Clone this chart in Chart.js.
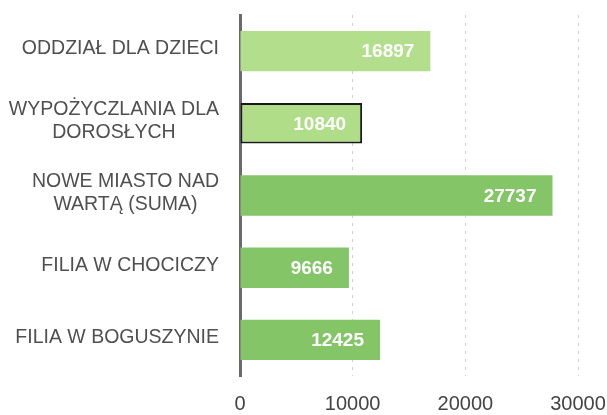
<!DOCTYPE html>
<html>
<head>
<meta charset="utf-8">
<script src="https://cdn.jsdelivr.net/npm/chart.js@4/dist/chart.umd.min.js"></script>
<style>
  html, body { margin: 0; padding: 0; background: #fff; }
  #wrap { width: 607px; height: 415px; }
</style>
</head>
<body>
<div id="wrap"><canvas id="chart" width="607" height="415"></canvas></div>
<script>
// data
const categories = [
    ["ODDZIAŁ DLA DZIECI"],
    ["WYPOŻYCZLANIA DLA", "DOROSŁYCH"],
    ["NOWE MIASTO NAD", "WARTĄ (SUMA)"],
    ["FILIA W CHOCICZY"],
    ["FILIA W BOGUSZYNIE"]
];
const values = [16897, 10840, 27737, 9666, 12425];
const xTicks = [0, 10000, 20000, 30000];

const barColors = ['#b3df8c', '#afdd88', '#84c568', '#84c568', '#84c568'];

// category labels: right aligned block, lines centered inside the block
const categoryLabels = {
    id: 'categoryLabels',
    afterDraw(chart) {
        const ctx = chart.ctx;
        const y = chart.scales.y;
        ctx.save();
        ctx.font = '19.5px "Liberation Sans", Arial, sans-serif';
        ctx.fillStyle = '#505050';
        ctx.textAlign = 'center';
        ctx.textBaseline = 'middle';
        const lineH = 23;
        const right = 219;
        categories.forEach((lines, i) => {
            const cy = y.getPixelForTick(i) - 2;
            const w = Math.max(...lines.map(l => ctx.measureText(l).width));
            const cx = right - w / 2;
            const top = cy - (lines.length - 1) * lineH / 2;
            lines.forEach((l, k) => ctx.fillText(l, cx, top + k * lineH));
        });
        ctx.restore();
    }
};

// white value labels inside the bar end
const valueLabels = {
    id: 'valueLabels',
    afterDatasetsDraw(chart) {
        const ctx = chart.ctx;
        const meta = chart.getDatasetMeta(0);
        ctx.save();
        ctx.font = 'bold 19px "Liberation Sans", Arial, sans-serif';
        ctx.fillStyle = '#ffffff';
        ctx.textAlign = 'right';
        ctx.textBaseline = 'middle';
        meta.data.forEach((bar, i) => {
            ctx.fillText(String(values[i]), bar.x - 16, bar.y + 1);
        });
        ctx.restore();
    }
};

new Chart(document.getElementById('chart').getContext('2d'), {
    type: 'bar',
    data: {
        labels: categories,
        datasets: [{
            data: values,
            backgroundColor: barColors,
            borderColor: ['rgba(0,0,0,0)', '#1a1a1a', 'rgba(0,0,0,0)', 'rgba(0,0,0,0)', 'rgba(0,0,0,0)'],
            borderWidth: [0, 2, 0, 0, 0],
            borderSkipped: false,
            barPercentage: 0.56,
            categoryPercentage: 1
        }]
    },
    options: {
        indexAxis: 'y',
        responsive: false,
        animation: false,
        layout: { padding: { left: 240, right: 29, top: 15, bottom: -17 } },
        plugins: {
            legend: { display: false },
            tooltip: { enabled: false }
        },
        scales: {
            x: {
                min: 0,
                max: 30000,
                afterBuildTicks(axis) {
                    axis.ticks = xTicks.map(v => ({ value: v }));
                },
                afterFit(axis) {
                    // last label may hang over the plot edge like in the original
                    axis.paddingLeft = 0;
                    axis.paddingRight = 0;
                },
                grid: {
                    color: ctx => ctx.tick && ctx.tick.value === 0 ? 'rgba(0,0,0,0)' : '#d2d2d2',
                    lineWidth: 1,
                    drawTicks: false
                },
                border: { display: false, dash: [3, 5] },
                ticks: {
                    color: '#444',
                    padding: 16,
                    maxRotation: 0,
                    callback: v => String(v),
                    font: { family: '"Liberation Sans", Arial, sans-serif', size: 20 }
                }
            },
            y: {
                ticks: { display: false },
                grid: { display: false, drawTicks: false },
                border: { display: true, color: '#6a6a6a', width: 3 }
            }
        }
    },
    plugins: [categoryLabels, valueLabels]
});
</script>
</body>
</html>
